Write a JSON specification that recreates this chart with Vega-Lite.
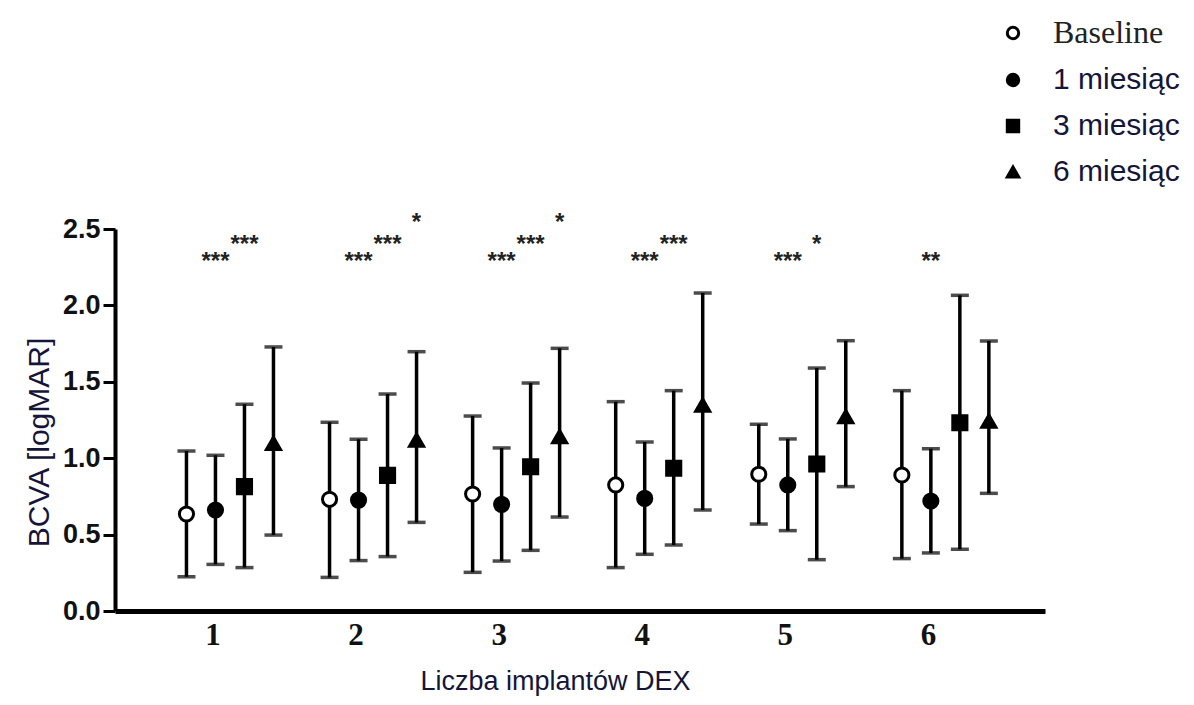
{
  "$schema": "https://vega.github.io/schema/vega-lite/v6.json",
  "width": 930,
  "height": 382,
  "autosize": {"type": "none"},
  "padding": {"left": 115, "top": 229, "right": 149, "bottom": 94},
  "background": "white",
  "config": {"view": {"stroke": null}},
  "datasets": {
    "stats": [
      {"group": "1", "series": "Baseline", "mean": 0.635, "low": 0.224, "high": 1.047},
      {"group": "1", "series": "1 miesiąc", "mean": 0.661, "low": 0.305, "high": 1.019},
      {"group": "1", "series": "3 miesiąc", "mean": 0.814, "low": 0.284, "high": 1.353},
      {"group": "1", "series": "6 miesiąc", "mean": 1.097, "low": 0.497, "high": 1.728},
      {"group": "2", "series": "Baseline", "mean": 0.731, "low": 0.22, "high": 1.235},
      {"group": "2", "series": "1 miesiąc", "mean": 0.726, "low": 0.33, "high": 1.124},
      {"group": "2", "series": "3 miesiąc", "mean": 0.888, "low": 0.356, "high": 1.42},
      {"group": "2", "series": "6 miesiąc", "mean": 1.119, "low": 0.58, "high": 1.697},
      {"group": "3", "series": "Baseline", "mean": 0.766, "low": 0.253, "high": 1.276},
      {"group": "3", "series": "1 miesiąc", "mean": 0.698, "low": 0.327, "high": 1.067},
      {"group": "3", "series": "3 miesiąc", "mean": 0.944, "low": 0.397, "high": 1.492},
      {"group": "3", "series": "6 miesiąc", "mean": 1.141, "low": 0.615, "high": 1.719},
      {"group": "4", "series": "Baseline", "mean": 0.825, "low": 0.284, "high": 1.37},
      {"group": "4", "series": "1 miesiąc", "mean": 0.737, "low": 0.371, "high": 1.106},
      {"group": "4", "series": "3 miesiąc", "mean": 0.934, "low": 0.432, "high": 1.442},
      {"group": "4", "series": "6 miesiąc", "mean": 1.348, "low": 0.661, "high": 2.081},
      {"group": "5", "series": "Baseline", "mean": 0.895, "low": 0.569, "high": 1.222},
      {"group": "5", "series": "1 miesiąc", "mean": 0.825, "low": 0.526, "high": 1.126},
      {"group": "5", "series": "3 miesiąc", "mean": 0.962, "low": 0.336, "high": 1.59},
      {"group": "5", "series": "6 miesiąc", "mean": 1.272, "low": 0.814, "high": 1.769},
      {"group": "6", "series": "Baseline", "mean": 0.89, "low": 0.343, "high": 1.442},
      {"group": "6", "series": "1 miesiąc", "mean": 0.72, "low": 0.38, "high": 1.062},
      {"group": "6", "series": "3 miesiąc", "mean": 1.232, "low": 0.404, "high": 2.066},
      {"group": "6", "series": "6 miesiąc", "mean": 1.243, "low": 0.77, "high": 1.767}
    ],
    "stars": [
      {"group": "1", "series": "1 miesiąc", "label": "***", "level": 2.31},
      {"group": "1", "series": "3 miesiąc", "label": "***", "level": 2.42},
      {"group": "2", "series": "1 miesiąc", "label": "***", "level": 2.31},
      {"group": "2", "series": "3 miesiąc", "label": "***", "level": 2.42},
      {"group": "2", "series": "6 miesiąc", "label": "*", "level": 2.565},
      {"group": "3", "series": "1 miesiąc", "label": "***", "level": 2.31},
      {"group": "3", "series": "3 miesiąc", "label": "***", "level": 2.42},
      {"group": "3", "series": "6 miesiąc", "label": "*", "level": 2.565},
      {"group": "4", "series": "1 miesiąc", "label": "***", "level": 2.31},
      {"group": "4", "series": "3 miesiąc", "label": "***", "level": 2.42},
      {"group": "5", "series": "1 miesiąc", "label": "***", "level": 2.31},
      {"group": "5", "series": "3 miesiąc", "label": "*", "level": 2.42},
      {"group": "6", "series": "1 miesiąc", "label": "**", "level": 2.31}
    ]
  },
  "encoding": {
    "x": {
      "field": "group",
      "type": "nominal",
      "scale": {"type": "band", "domain": ["1", "2", "3", "4", "5", "6"], "paddingInner": 0, "paddingOuter": 0.25, "align": 0.37},
      "axis": {
        "title": "Liczba implantów DEX",
        "titleFont": "Liberation Sans",
        "titleFontSize": 27,
        "titleFontWeight": "normal",
        "titleColor": "#15153a",
        "titlePadding": 18,
        "titleX": 440,
        "labelAngle": 0,
        "labelFont": "Liberation Serif",
        "labelFontWeight": "bold",
        "labelFontSize": 31,
        "labelColor": "#111111",
        "labelPadding": 9,
        "ticks": false,
        "domainColor": "black",
        "domainWidth": 5
      }
    },
    "xOffset": {
      "field": "series",
      "type": "nominal",
      "scale": {"type": "point", "padding": 0, "domain": ["Baseline", "1 miesiąc", "3 miesiąc", "6 miesiąc"], "range": [45, 132]}
    }
  },
  "layer": [
    {
      "data": {"name": "stats"},
      "mark": {"type": "rule", "color": "black", "strokeWidth": 3.5},
      "encoding": {
        "y": {
          "field": "low",
          "type": "quantitative",
          "scale": {"domain": [0, 2.5], "nice": false, "zero": true},
          "axis": {
            "title": "BCVA [logMAR]",
            "titleFont": "Liberation Sans",
            "titleFontSize": 30,
            "titleFontWeight": "normal",
            "titleColor": "#15153a",
            "titlePadding": 8,
            "titleY": 213,
            "values": [0, 0.5, 1, 1.5, 2, 2.5],
            "format": ".1f",
            "labelFont": "Liberation Sans",
            "labelFontWeight": "bold",
            "labelFontSize": 27,
            "labelColor": "#111111",
            "labelPadding": 3,
            "tickSize": 12,
            "tickWidth": 3,
            "tickColor": "black",
            "domainColor": "black",
            "domainWidth": 4,
            "grid": false
          }
        },
        "y2": {"field": "high"}
      }
    },
    {
      "data": {"name": "stats"},
      "mark": {"type": "tick", "color": "black", "thickness": 3.5, "size": 18, "orient": "horizontal"},
      "encoding": {"y": {"field": "low", "type": "quantitative"}}
    },
    {
      "data": {"name": "stats"},
      "mark": {"type": "tick", "color": "black", "thickness": 3.5, "size": 18, "orient": "horizontal"},
      "encoding": {"y": {"field": "high", "type": "quantitative"}}
    },
    {
      "data": {"name": "stats"},
      "mark": {"type": "point", "filled": true, "stroke": "black", "strokeWidth": 3, "size": 200, "opacity": 1},
      "encoding": {
        "y": {"field": "mean", "type": "quantitative"},
        "shape": {
          "field": "series",
          "type": "nominal",
          "scale": {"domain": ["Baseline", "1 miesiąc", "3 miesiąc", "6 miesiąc"], "range": ["circle", "circle", "square", "triangle-up"]},
          "legend": {
            "title": null,
            "orient": "none",
            "legendX": 883,
            "legendY": -211,
            "symbolSize": 130,
            "symbolStrokeWidth": 3,
            "labelFontSize": {"expr": "datum.label == 'Baseline' ? 32 : 30"},
            "labelFont": {"expr": "datum.label == 'Baseline' ? 'Liberation Serif' : 'Liberation Sans'"},
            "labelColor": {"expr": "datum.label == 'Baseline' ? '#222222' : '#15153a'"},
            "labelOffset": 25,
            "rowPadding": 16,
            "labelLimit": 300
          }
        },
        "fill": {
          "field": "series",
          "type": "nominal",
          "scale": {"domain": ["Baseline", "1 miesiąc", "3 miesiąc", "6 miesiąc"], "range": ["white", "black", "black", "black"]},
          "legend": {
            "title": null,
            "orient": "none",
            "legendX": 883,
            "legendY": -211,
            "symbolSize": 130,
            "symbolStrokeWidth": 3,
            "labelFontSize": {"expr": "datum.label == 'Baseline' ? 32 : 30"},
            "labelFont": {"expr": "datum.label == 'Baseline' ? 'Liberation Serif' : 'Liberation Sans'"},
            "labelColor": {"expr": "datum.label == 'Baseline' ? '#222222' : '#15153a'"},
            "labelOffset": 25,
            "rowPadding": 16,
            "labelLimit": 300
          }
        }
      }
    },
    {
      "data": {"name": "stars"},
      "mark": {"type": "text", "font": "Liberation Sans", "fontSize": 24, "fontWeight": "bold", "color": "#222222", "baseline": "alphabetic", "dy": 11},
      "encoding": {
        "y": {"field": "level", "type": "quantitative"},
        "text": {"field": "label"}
      }
    }
  ]
}
